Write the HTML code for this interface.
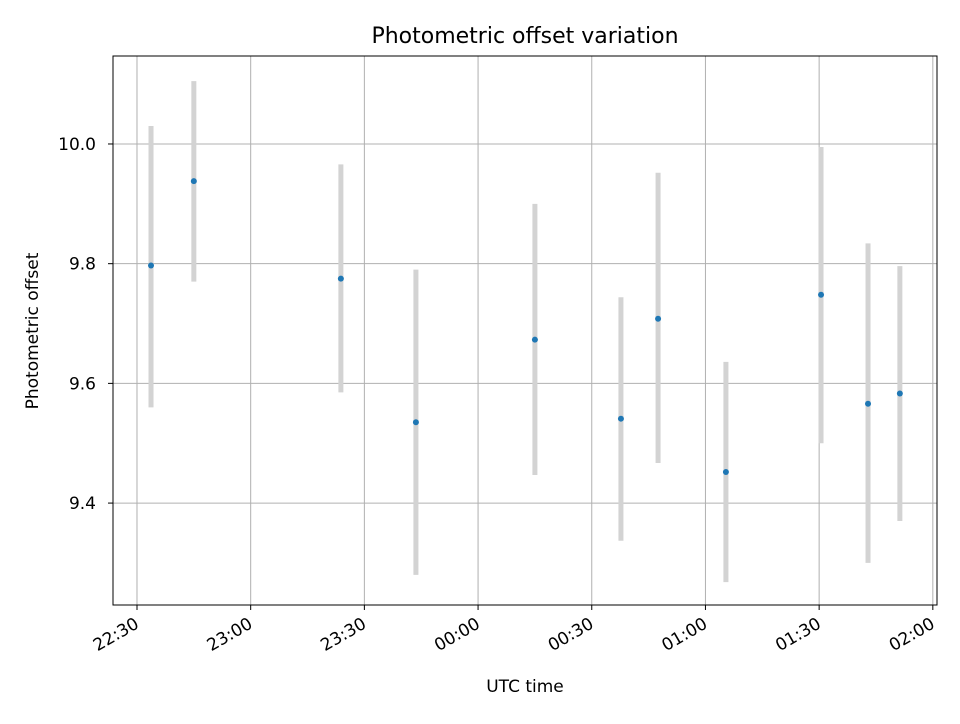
<!DOCTYPE html>
<html><head><meta charset="utf-8"><style>
body{margin:0;background:#fff;font-family:"DejaVu Sans","Liberation Sans",sans-serif;}
svg text{font-family:"DejaVu Sans","Liberation Sans",sans-serif;}
</style></head><body>
<svg id="chart" width="960" height="720" xmlns="http://www.w3.org/2000/svg">
<rect width="960" height="720" fill="#fff"/>
<g id="grid"></g><g id="errs"></g><g id="pts"></g><g id="axes"></g>
<text x="525" y="43" text-anchor="middle" font-size="22">Photometric offset variation</text>
<text x="525" y="692" text-anchor="middle" font-size="17">UTC time</text>
<text transform="translate(38,331) rotate(-90)" text-anchor="middle" font-size="17">Photometric offset</text>
</svg>
<script>
// minutes after 22:30
const times=[3.7,15,53.8,73.6,105,127.7,137.5,155.4,180.5,192.9,201.3];
const values=[9.797,9.938,9.775,9.535,9.673,9.541,9.708,9.452,9.748,9.566,9.583];
const errLow=[9.56,9.77,9.585,9.28,9.447,9.337,9.467,9.268,9.5,9.3,9.37];
const errHigh=[10.03,10.105,9.966,9.79,9.9,9.744,9.952,9.636,9.995,9.834,9.796];
const xTicks=[0,30,60,90,120,150,180,210];
const xTickLabels=["22:30","23:00","23:30","00:00","00:30","01:00","01:30","02:00"];
const yTicks=[9.4,9.6,9.8,10.0];
const yTickLabels=["9.4","9.6","9.8","10.0"];
const L=113,R=937,T=56,B=605;
const xmin=-6.33,xmax=211.1,ymin=9.2297,ymax=10.147;
const X=v=>L+(v-xmin)/(xmax-xmin)*(R-L);
const Y=v=>B-(v-ymin)/(ymax-ymin)*(B-T);
const NS="http://www.w3.org/2000/svg";
function mk(tag,attrs,parent){const e=document.createElementNS(NS,tag);for(const k in attrs)e.setAttribute(k,attrs[k]);document.getElementById(parent).appendChild(e);return e;}
xTicks.forEach((t,i)=>{const x=X(t);
 const g=mk('line',{x1:x,x2:x,y1:T,y2:B,stroke:'#b0b0b0','stroke-width':1},'grid');
 
 
 const k=mk('line',{x1:x,x2:x,y1:B,y2:B+5,stroke:'#000'},'axes');
 
 
 const ax=x+3,ay=B+22;
 const tx=mk('text',{x:ax,y:ay,'text-anchor':'end','font-size':17,transform:`rotate(-30 ${ax} ${ay})`},'axes');
 tx.textContent=xTickLabels[i];
 
 
});
yTicks.forEach((t,i)=>{const y=Y(t);
 const g=mk('line',{x1:L,x2:R,y1:y,y2:y,stroke:'#b0b0b0','stroke-width':1},'grid');
 
 
 const k=mk('line',{x1:L-5,x2:L,y1:y,y2:y,stroke:'#000'},'axes');
 
 
 const tx=mk('text',{x:L-17,y:y+6,'text-anchor':'end','font-size':17},'axes');
 tx.textContent=yTickLabels[i];
 
 
});
const fr=mk('rect',{x:L,y:T,width:R-L,height:B-T,fill:'none',stroke:'#000','stroke-width':1},'axes');


times.forEach((t,i)=>{const x=X(t);
 const e=mk('line',{x1:x,x2:x,y1:Y(errHigh[i]),y2:Y(errLow[i]),stroke:'#d3d3d3','stroke-width':5},'errs');
 
 
 const c=mk('circle',{cx:x,cy:Y(values[i]),r:3,fill:'#1f77b4'},'pts');
 
 
});
</script>
</body></html>
